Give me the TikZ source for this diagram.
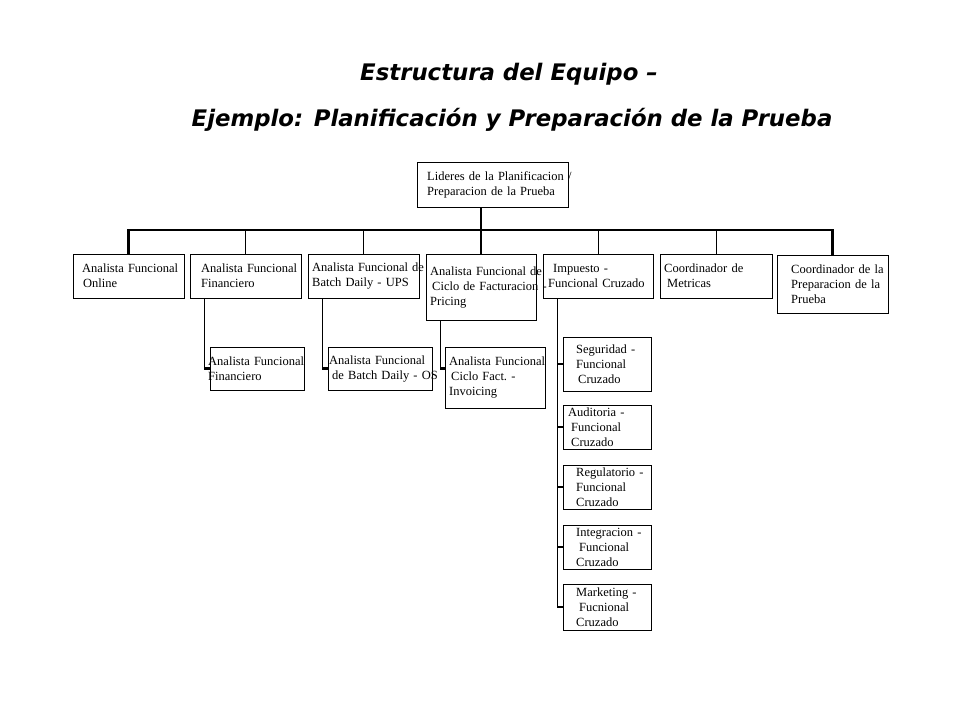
\documentclass[tikz,border=0pt]{standalone}
\usepackage{fontspec}
\setmainfont{Liberation Serif}
\newfontfamily\titlefont{DejaVu Sans}

\begin{document}
\begin{tikzpicture}[x=1pt,y=-1pt]
\fill[white] (0,0) rectangle (960,720);
\useasboundingbox (0,0) rectangle (960,720);

\begin{scope}[every node/.style={anchor=base,font=\titlefont\bfseries\itshape\fontsize{22.8}{26}\selectfont}]
    \node (titulo1) at (509,80) {Estructura del Equipo –};
    \node (titulo2) at (512,126) {Ejemplo: Planificación y Preparación de la Prueba};
\end{scope}

\begin{scope}[every node/.style={draw,thin,rectangle,anchor=north west,align=left,
              inner xsep=4pt,inner ysep=0pt,font=\fontsize{12.5}{15}\selectfont,
              execute at begin node={\frenchspacing\hyphenpenalty=10000\exhyphenpenalty=10000}}]
    \node[text width=143pt,minimum height=45pt] (lider) at (417,162) {\hspace*{6pt}\mbox{Lideres de la Planificacion /}\\\hspace*{6pt}\mbox{Preparacion de la Prueba}};

    \node[text width=103pt,minimum height=44pt] (online) at (73,254) {\hspace*{5pt}\mbox{Analista Funcional}\\\hspace*{6pt}Online};
    \node[text width=103pt,minimum height=44pt] (financiero) at (190,254) {\hspace*{7pt}\mbox{Analista Funcional}\\\hspace*{7pt}Financiero};
    \node[text width=103pt,minimum height=44pt] (ups) at (308,254) {\mbox{Analista Funcional de}\\\mbox{Batch Daily - UPS}};
    \node[text width=102pt,minimum height=66pt] (pricing) at (426,254) {\mbox{Analista Funcional de}\\\hspace*{2pt}\mbox{Ciclo de Facturacion -}\\Pricing};
    \node[text width=102pt,minimum height=44pt] (impuesto) at (543,254) {\hspace*{6pt}\mbox{Impuesto -}\\\hspace*{1pt}\mbox{Funcional Cruzado}};
    \node[text width=104pt,minimum height=44pt] (metricas) at (660,254) {\mbox{Coordinador de}\\\hspace*{3pt}Metricas};
    \node[text width=103pt,minimum height=58pt] (prueba) at (777,255) {\hspace*{10pt}\mbox{Coordinador de la}\\\hspace*{10pt}\mbox{Preparacion de la}\\\hspace*{10pt}Prueba};

    \node[text width=86pt,minimum height=43pt] (financiero2) at (210,347) {\hspace*{-6pt}\mbox{Analista Funcional}\\\hspace*{-6pt}Financiero};
    \node[text width=96pt,minimum height=43pt] (os) at (328,347) {\hspace*{-3pt}\mbox{Analista Funcional}\\\mbox{de Batch Daily - OS}};
    \node[text width=92pt,minimum height=61pt] (invoicing) at (445,347) {\mbox{Analista Funcional}\\\hspace*{2pt}\mbox{Ciclo Fact. -}\\Invoicing};

    \node[text width=80pt,minimum height=54pt] (seguridad) at (563,337) {\hspace*{9pt}\mbox{Seguridad -}\\\hspace*{9pt}Funcional\\\hspace*{11pt}Cruzado};
    \node[text width=80pt,minimum height=44pt] (auditoria) at (563,405) {\hspace*{1pt}\mbox{Auditoria -}\\\hspace*{4pt}Funcional\\\hspace*{4pt}Cruzado};
    \node[text width=80pt,minimum height=44pt] (regulatorio) at (563,465) {\hspace*{9pt}\mbox{Regulatorio -}\\\hspace*{9pt}Funcional\\\hspace*{9pt}Cruzado};
    \node[text width=80pt,minimum height=44pt] (integracion) at (563,525) {\hspace*{9pt}\mbox{Integracion -}\\\hspace*{12pt}Funcional\\\hspace*{9pt}Cruzado};
    \node[text width=80pt,minimum height=46pt] (marketing) at (563,584) {\hspace*{9pt}\mbox{Marketing -}\\\hspace*{12pt}Fucnional\\\hspace*{9pt}Cruzado};
\end{scope}

\begin{scope}[tronco/.style={draw=black,line width=2.5pt},
              rama/.style={draw=black,line width=0.9pt}]
    \coordinate (bus) at (0,230);
    \draw[tronco] (pricing.north |- lider.south) -- (pricing.north);
    \draw[tronco] (online.north) -- (online.north |- bus) -- (prueba.north |- bus) -- (prueba.north);
    \foreach \n in {financiero,ups,impuesto,metricas}
        \path (\n.north |- bus) edge[rama] (\n.north);

    \coordinate (pie1) at ([xshift=14pt]financiero.south west);
    \coordinate (pie2) at ([xshift=14pt]ups.south west);
    \coordinate (pie3) at ([xshift=14pt]pricing.south west);
    \coordinate (toma) at ([yshift=9pt]invoicing.west);
    \draw[rama] (pie1) |- (financiero2.west);
    \draw[tronco] (financiero2.west) -- (financiero2.west -| pie1);
    \draw[rama] (pie2) |- (os.west);
    \draw[tronco] (os.west) -- (os.west -| pie2);
    \draw[rama] (pie3) |- (toma);
    \draw[tronco] (toma) -- (toma -| pie3);

    \coordinate (espina) at ([xshift=14pt]impuesto.south west);
    \draw[rama] (espina) -- (espina |- marketing.west);
    \foreach \n in {seguridad,auditoria,regulatorio,integracion,marketing}
        \draw[tronco] (\n.west) -- (\n.west -| espina);
\end{scope}
\end{tikzpicture}
\end{document}
